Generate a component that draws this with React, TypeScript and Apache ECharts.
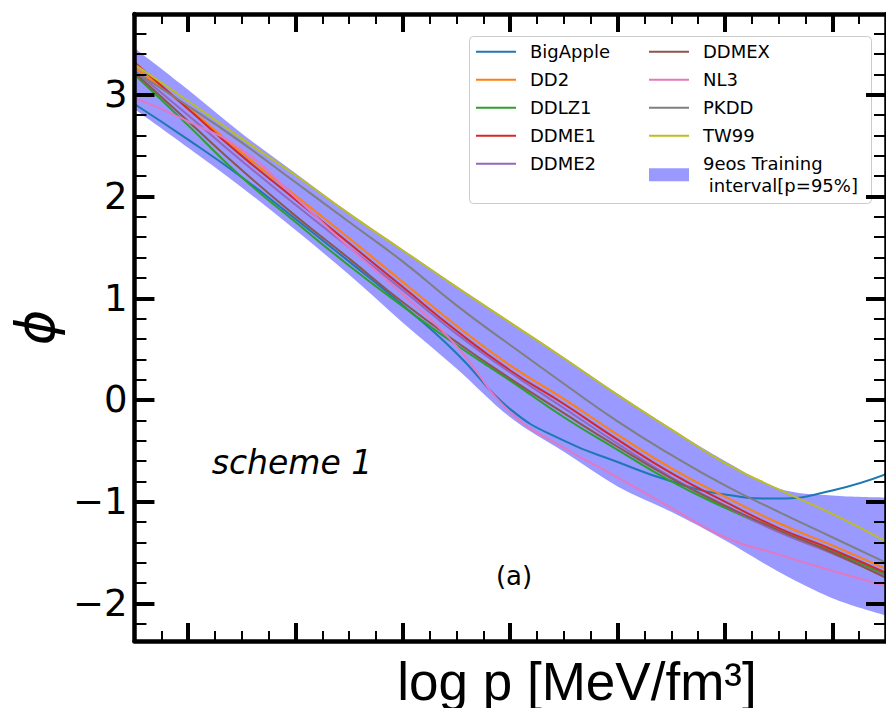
import React, { useEffect, useRef } from "react";
import * as echarts from "echarts";

// ---- data ----
const xs = [-0.5, 0, 0.5, 1, 1.5, 2, 2.5, 3, 3.5, 4, 4.5, 5, 5.5, 6, 6.5];

const bigApple = [2.91, 2.56, 2.19, 1.78, 1.36, 0.93, 0.46, -0.09, -0.4, -0.61, -0.8, -0.93, -0.97, -0.89, -0.73];
const dd2 = [3.27, 2.87, 2.43, 2.01, 1.59, 1.16, 0.73, 0.34, 0.01, -0.34, -0.67, -0.95, -1.21, -1.43, -1.66];
const ddlz1 = [3.2, 2.7, 2.19, 1.75, 1.32, 0.92, 0.54, 0.19, -0.17, -0.49, -0.8, -1.06, -1.29, -1.49, -1.72];
const ddme1 = [3.32, 2.86, 2.4, 1.97, 1.54, 1.11, 0.68, 0.29, -0.04, -0.39, -0.72, -1.0, -1.26, -1.47, -1.7];
const ddme2 = [3.24, 2.8, 2.35, 1.92, 1.5, 1.08, 0.65, 0.27, -0.08, -0.43, -0.76, -1.04, -1.3, -1.51, -1.74];
const ddmex = [3.22, 2.74, 2.26, 1.81, 1.39, 0.96, 0.57, 0.21, -0.13, -0.46, -0.77, -1.04, -1.28, -1.5, -1.75];
const nl3 = [2.97, 2.74, 2.46, 1.99, 1.5, 1.04, 0.53, -0.12, -0.47, -0.76, -1.06, -1.35, -1.52, -1.68, -1.83];
const pkdd = [3.23, 2.89, 2.53, 2.14, 1.75, 1.36, 0.93, 0.54, 0.16, -0.21, -0.54, -0.84, -1.1, -1.35, -1.6];
const tw99 = [3.3, 2.94, 2.57, 2.21, 1.83, 1.47, 1.11, 0.76, 0.41, 0.05, -0.29, -0.62, -0.88, -1.12, -1.39];

const bandUpper = [3.46, 3.05, 2.62, 2.23, 1.84, 1.48, 1.12, 0.77, 0.42, 0.06, -0.28, -0.6, -0.87, -0.94, -0.96];
const bandLower = [2.86, 2.48, 2.09, 1.67, 1.23, 0.76, 0.31, -0.17, -0.51, -0.85, -1.1, -1.38, -1.69, -1.95, -2.12];

const seriesNames = ["BigApple", "DD2", "DDLZ1", "DDME1", "DDME2", "DDMEX", "NL3", "PKDD", "TW99"];
const seriesValues = [bigApple, dd2, ddlz1, ddme1, ddme2, ddmex, nl3, pkdd, tw99];
const seriesColors = ["#1f77b4", "#ff7f0e", "#2ca02c", "#d62728", "#9467bd", "#8c564b", "#e377c2", "#7f7f7f", "#bcbd22"];
const bandName = "9eos Training\n interval[p=95%]";
const bandColor = "#9999ff";

const xMajorTicks = [0, 1, 2, 3, 4, 5, 6];
const yMajorTicks = [-2, -1, 0, 1, 2, 3];

const X_MIN = -0.5;
const X_MAX = 6.5;
const Y_MIN = -2.37;
const Y_MAX = 3.795;

const xMinorTicks: number[] = [];
for (let i = -2; i <= 26; i++) {
  const v = i * 0.25;
  if (i % 4 !== 0 && v > X_MIN && v < X_MAX) xMinorTicks.push(v);
}
const yMinorTicks: number[] = [];
for (let i = -11; i <= 18; i++) {
  const v = Math.round(i * 2) / 10;
  if (i % 5 !== 0 && v > Y_MIN && v < Y_MAX) yMinorTicks.push(v);
}

const FONT = "DejaVu Sans";
const lineIcon = "path://M0,0M49,0M49,14M0,14M0,6h40v2h-40z";
const bandIcon = "path://M0,0M49,0M49,14M0,14M0,0.5h40v13h-40z";

// Catmull-Rom spline through pixel points -> cubic bezier commands
function splinePath(pts: number[][]): string {
  let d = "";
  for (let i = 0; i < pts.length - 1; i++) {
    const p0 = pts[Math.max(i - 1, 0)];
    const p1 = pts[i];
    const p2 = pts[i + 1];
    const p3 = pts[Math.min(i + 2, pts.length - 1)];
    const c1x = p1[0] + (p2[0] - p0[0]) / 6;
    const c1y = p1[1] + (p2[1] - p0[1]) / 6;
    const c2x = p2[0] - (p3[0] - p1[0]) / 6;
    const c2y = p2[1] - (p3[1] - p1[1]) / 6;
    d += `C${c1x},${c1y} ${c2x},${c2y} ${p2[0]},${p2[1]}`;
  }
  return d;
}

export default function App() {
  const ref = useRef<HTMLDivElement>(null);
  useEffect(() => {
    if (!ref.current) return;
    const chart = echarts.init(ref.current, null, { renderer: "svg" });

    const xBase = {
      type: "value",
      min: X_MIN,
      max: X_MAX,
      z: 10,
      axisLabel: { show: false },
      splitLine: { show: false },
    };
    const yBase = {
      type: "value",
      min: Y_MIN,
      max: Y_MAX,
      z: 10,
      splitLine: { show: false },
    };
    const spine = { show: true, onZero: false, lineStyle: { color: "#000", width: 4.5 } };
    const noLine = { show: false, onZero: false };
    const majorTickX = { show: true, inside: true, length: 18, lineStyle: { color: "#000", width: 4 }, customValues: xMajorTicks };
    const minorTickX = { show: true, inside: true, length: 10, lineStyle: { color: "#000", width: 2 }, customValues: xMinorTicks };
    const majorTickY = { show: true, inside: true, length: 20, lineStyle: { color: "#000", width: 4 }, customValues: yMajorTicks };
    const minorTickY = { show: true, inside: true, length: 12, lineStyle: { color: "#000", width: 2 }, customValues: yMinorTicks };

    const lineSeries = seriesNames.map((name, k) => ({
      name,
      type: "line",
      data: xs.map((x, i) => [x, seriesValues[k][i]]),
      symbol: "none",
      smooth: 0.5,
      lineStyle: { width: 2, color: seriesColors[k] },
      itemStyle: { color: seriesColors[k] },
      z: 3,
    }));

    const legendText = { fontFamily: FONT, fontSize: 18, color: "#000", lineHeight: 22 };

    chart.setOption({
      animation: false,
      grid: { left: 134, top: 14, width: 762, height: 627, containLabel: false },
      xAxis: [
        { ...xBase, position: "bottom", axisLine: spine, axisTick: majorTickX },
        { ...xBase, position: "bottom", axisLine: noLine, axisTick: minorTickX },
        { ...xBase, position: "top", axisLine: spine, axisTick: majorTickX },
        { ...xBase, position: "top", axisLine: noLine, axisTick: minorTickX },
      ],
      yAxis: [
        {
          ...yBase,
          position: "left",
          axisLine: spine,
          axisTick: majorTickY,
          axisLabel: {
            show: true,
            customValues: yMajorTicks,
            fontFamily: FONT,
            fontSize: 37,
            color: "#000",
            margin: 7,
            formatter: (v: number) => String(v).replace("-", "\u2212"),
          },
          name: "\u03d5",
          nameLocation: "middle",
          nameRotate: 90,
          nameGap: 67,
          nameTextStyle: { fontFamily: FONT, fontSize: 54, fontStyle: "italic", color: "#000" },
        },
        { ...yBase, position: "left", axisLine: noLine, axisTick: minorTickY, axisLabel: { show: false } },
        { ...yBase, position: "right", axisLine: spine, axisTick: majorTickY, axisLabel: { show: false } },
        { ...yBase, position: "right", axisLine: noLine, axisTick: minorTickY, axisLabel: { show: false } },
      ],
      legend: [
        {
          data: seriesNames.slice(0, 5),
          orient: "vertical",
          left: 476,
          top: 40.7,
          padding: 0,
          itemWidth: 49,
          itemHeight: 14,
          itemGap: 6,
          icon: lineIcon,
          textStyle: legendText,
          selectedMode: false,
        },
        {
          data: [
            ...seriesNames.slice(5).map((n) => ({ name: n })),
            { name: bandName, icon: bandIcon, itemStyle: { color: bandColor } },
          ],
          orient: "vertical",
          left: 649,
          top: 40.7,
          padding: 0,
          itemWidth: 49,
          itemHeight: 14,
          itemGap: 6,
          icon: lineIcon,
          textStyle: legendText,
          selectedMode: false,
        },
      ],
      graphic: [
        {
          type: "rect",
          z: 1,
          shape: { x: 469.5, y: 36.5, width: 402, height: 167, r: 4 },
          style: { fill: "rgba(255,255,255,0.8)", stroke: "#cccccc", lineWidth: 1 },
        },
        {
          type: "text",
          x: 292,
          y: 462,
          style: {
            text: "scheme 1",
            fontFamily: FONT,
            fontSize: 33,
            fontStyle: "italic",
            fill: "#000",
            textAlign: "center",
            textVerticalAlign: "middle",
          },
        },
        {
          type: "text",
          x: 514,
          y: 576,
          style: {
            text: "(a)",
            fontFamily: FONT,
            fontSize: 26,
            fill: "#000",
            textAlign: "center",
            textVerticalAlign: "middle",
          },
        },
        {
          type: "text",
          x: 577,
          y: 681,
          style: {
            text: "log p [MeV/fm\u00b3]",
            fontFamily: "Liberation Sans",
            fontSize: 53,
            fill: "#000",
            textAlign: "center",
            textVerticalAlign: "middle",
          },
        },
      ],
      series: [
        {
          name: bandName,
          type: "custom",
          data: [[0, 0]],
          itemStyle: { color: bandColor },
          silent: true,
          z: 1,
          renderItem: (_params: any, api: any) => {
            const up = xs.map((x, i) => api.coord([x, bandUpper[i]]));
            const lo = xs.map((x, i) => api.coord([x, bandLower[i]])).reverse();
            const d =
              `M${up[0][0]},${up[0][1]}` +
              splinePath(up) +
              `L${lo[0][0]},${lo[0][1]}` +
              splinePath(lo) +
              "Z";
            return {
              type: "path",
              shape: { pathData: d },
              style: { fill: bandColor, stroke: "none" },
            };
          },
        },
        ...lineSeries,
      ],
    });
    return () => chart.dispose();
  }, []);
  return (
    <div
      ref={ref}
      style={{ position: "absolute", left: 0, top: 0, width: 886, height: 708, background: "#fff" }}
    />
  );
}
